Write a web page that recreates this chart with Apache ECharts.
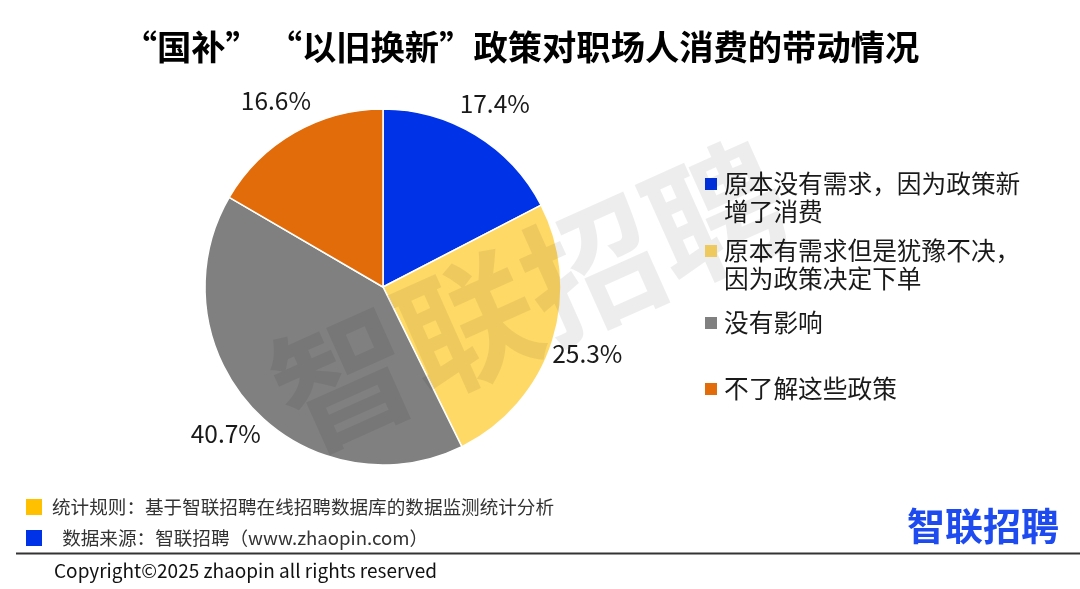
<!DOCTYPE html>
<html>
<head>
<meta charset="utf-8">
<script src="https://cdn.jsdelivr.net/npm/echarts@6/dist/echarts.min.js"></script>
<style>
html,body{margin:0;padding:0;background:#fff;}
#chart{width:1080px;height:589px;}
</style>
</head>
<body>
<div id="chart"></div>
<script>
var titleText = '“国补” “以旧换新”政策对职场人消费的带动情况';
var categories = [
  '原本没有需求，因为政策新\n增了消费',
  '原本有需求但是犹豫不决，\n因为政策决定下单',
  '没有影响',
  '不了解这些政策'
];
var values = [17.4, 25.3, 40.7, 16.6];
var colors = ['#0033E8', '#FFD966', '#808080', '#E36C0A'];
var legendTops = [142, 209, 309, 375];
var footnotes = ['统计规则：基于智联招聘在线招聘数据库的数据监测统计分析', ' 数据来源：智联招聘（www.zhaopin.com）'];
var copyright = 'Copyright©2025 zhaopin all rights reserved';

var FONT = '"Noto Sans CJK SC", "Microsoft YaHei", sans-serif';
var chart = echarts.init(document.getElementById('chart'), null, {renderer: 'canvas'});

var data = categories.map(function (c, i) {
  return {name: c, value: values[i], itemStyle: {color: colors[i]}};
});

var legends = categories.map(function (c, i) {
  return {
    data: [c],
    left: 703,
    top: legendTops[i],
    orient: 'vertical',
    padding: 0,
    itemWidth: 14,
    itemHeight: 14,
    itemGap: 0,
    icon: 'rect',
    selectedMode: false,
    formatter: function (name) { return name.indexOf('\n') >= 0 ? '\n' + name : name; },
    textStyle: {fontSize: 24.7, color: '#1a1a1a', fontFamily: FONT, lineHeight: 28, padding: [0, 0, 0, 1]}
  };
});

var option = {
  backgroundColor: '#ffffff',
  animation: false,
  title: {
    text: titleText,
    left: 516,
    textAlign: 'center',
    top: 25,
    textStyle: {fontSize: 34.3, fontWeight: 'bold', color: '#000', fontFamily: FONT}
  },
  legend: legends,
  series: [
    {
      type: 'pie',
      center: [383, 287],
      radius: [0, 178],
      startAngle: 90,
      clockwise: true,
      avoidLabelOverlap: false,
      label: {show: false},
      labelLine: {show: false},
      itemStyle: {borderColor: '#ffffff', borderWidth: 1.5},
      data: data,
      z: 2
    },
    {
      type: 'pie',
      center: [383, 287],
      radius: [192, 232],
      startAngle: 90,
      clockwise: true,
      silent: true,
      avoidLabelOverlap: false,
      legendHoverLink: false,
      itemStyle: {color: 'rgba(0,0,0,0)', borderWidth: 0},
      label: {
        show: true,
        position: 'inside',
        formatter: function (p) { return p.value.toFixed(1) + '%'; },
        fontSize: 24.5,
        color: '#1a1a1a',
        fontFamily: FONT
      },
      labelLine: {show: false},
      data: data.map(function (d) { return {name: d.name, value: d.value, itemStyle: {color: 'rgba(0,0,0,0)'}}; }),
      z: 1
    }
  ],
  graphic: [
    {
      type: 'text', x: 530, y: 296, rotation: 0.42, silent: true, z: 100,
      style: {text: '智联招聘', font: 'bold 136px ' + FONT, fill: 'rgba(0,0,0,0.07)', textAlign: 'center', textVerticalAlign: 'middle'}
    },
    {type: 'rect', shape: {x: 26, y: 499, width: 16, height: 16}, style: {fill: '#FFC000'}},
    {type: 'text', x: 52, y: 507, style: {text: footnotes[0], font: '18.6px ' + FONT, fill: '#333', textVerticalAlign: 'middle'}},
    {type: 'rect', shape: {x: 26, y: 530, width: 16, height: 16}, style: {fill: '#0033E8'}},
    {type: 'text', x: 58, y: 538, style: {text: footnotes[1], font: '18.6px ' + FONT, fill: '#333', textVerticalAlign: 'middle'}},
    {type: 'line', shape: {x1: 16, y1: 553.5, x2: 1080, y2: 553.5}, style: {stroke: '#333', lineWidth: 2}},
    {type: 'text', x: 54, y: 571, style: {text: copyright, font: '19px ' + FONT, fill: '#111', textVerticalAlign: 'middle'}},
    {type: 'text', x: 983, y: 526, style: {text: '智联招聘', font: 'bold 38px ' + FONT, fill: '#1E4BF0', textAlign: 'center', textVerticalAlign: 'middle'}}
  ]
};
chart.setOption(option);
</script>
</body>
</html>
